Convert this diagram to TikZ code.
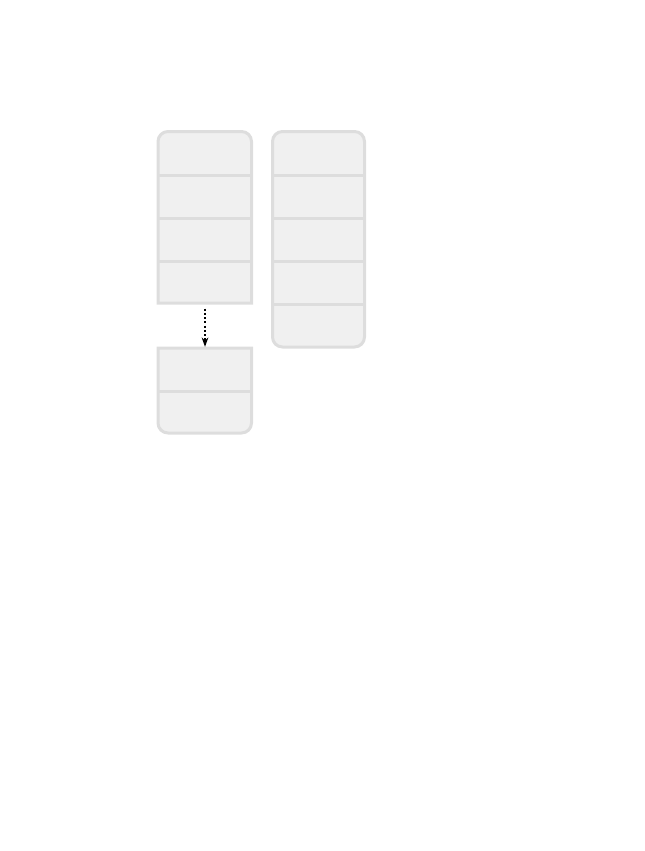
\documentclass[tikz,border=0pt]{standalone}
\usetikzlibrary{arrows.meta}
\definecolor{cellfill}{RGB}{240,240,240}
\definecolor{cellline}{RGB}{221,221,221}
\begin{document}
\begin{tikzpicture}[x=0.75pt,y=-0.75pt,
  cell/.style={draw=none,fill=none,inner sep=0pt,minimum width=93.5*0.75pt,minimum height=43*0.75pt,anchor=north west},
  outline/.style={draw=cellline,fill=cellfill,line width=2.25pt},
  divider/.style={draw=cellline,line width=2.25pt},
  link/.style={draw=black,line width=0.9pt,dash pattern=on 1.6pt off 1.6pt,-{Stealth[length=7pt,width=5pt]}}]
\useasboundingbox (0,0) rectangle (644,851);
% left upper stack
\path[outline] (158,303) [rounded corners=7.5pt] -- (158,131.5) -- (251.5,131.5) [sharp corners] -- (251.5,303) -- cycle;
% right stack
\path[outline] [rounded corners=7.5pt] (272.5,240) -- (272.5,131.5) -- (364.5,131.5) -- (364.5,347) -- (272.5,347) -- cycle;
% lower left stack
\path[outline] (158,348) [rounded corners=7.5pt] -- (158,433) -- (251.5,433) [sharp corners] -- (251.5,348) -- cycle;
% cells
\node[cell] (l1) at (158,131.5) {};
\node[cell] (l2) at (158,175) {};
\node[cell] (l3) at (158,218) {};
\node[cell] (l4) at (158,261) {};
\node[cell,minimum width=92*0.75pt] (r1) at (272.5,131.5) {};
\node[cell,minimum width=92*0.75pt] (r2) at (272.5,175) {};
\node[cell,minimum width=92*0.75pt] (r3) at (272.5,218) {};
\node[cell,minimum width=92*0.75pt] (r4) at (272.5,261) {};
\node[cell,minimum width=92*0.75pt] (r5) at (272.5,304) {};
\node[cell,minimum height=42.5*0.75pt] (m1) at (158,348) {};
\node[cell,minimum height=42.5*0.75pt] (m2) at (158,390.5) {};
% dividers
\foreach \n in {l1,l2,l3,r1,r2,r3,r4,m1}{
  \draw[divider] (\n.south west) -- (\n.south east);
}
% arrow
\draw[link] ([yshift=-3pt]l4.south) -- ([yshift=0.9pt]m1.north);
\end{tikzpicture}
\end{document}
